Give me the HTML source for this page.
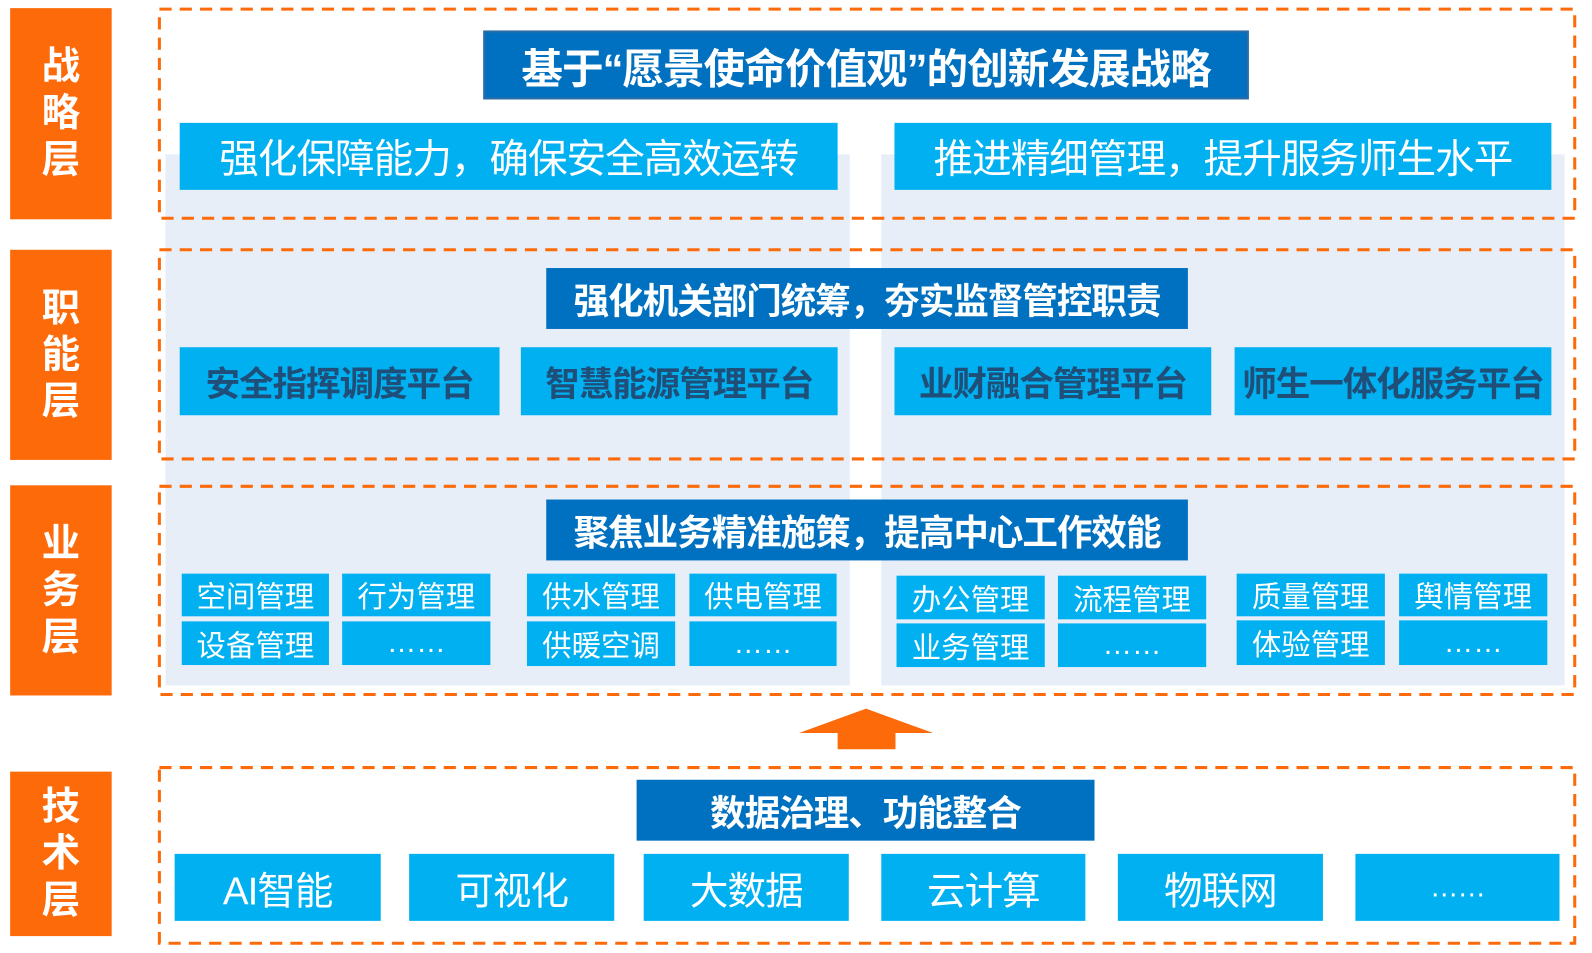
<!DOCTYPE html>
<html><head><meta charset="utf-8"><style>
html,body{margin:0;padding:0;background:#fff;width:1592px;height:953px;overflow:hidden}
#w{position:absolute;left:0;top:0;width:1568px;height:939px;transform:scale(1.0153);transform-origin:0 0;font-family:"Liberation Sans","Noto Sans CJK SC",sans-serif}
.a{position:absolute;box-sizing:border-box;display:flex;align-items:center;justify-content:center;white-space:nowrap}
.lab{background:#fd6a0a;color:#fff;font-weight:bold;font-size:38px;line-height:46px;flex-direction:column}
.pan{background:#e7eef8}
.t{background:#0070c0;color:#fff;font-weight:bold;font-size:35px;letter-spacing:-1px}
.b{background:#00b0f0;color:#fff;font-size:39px;letter-spacing:-1px}
.p{background:#00b0f0;color:#1f4e79;font-weight:bold;font-size:34px;letter-spacing:-1px}
.s{background:#00b0f0;color:#fff;font-size:29px}
</style></head><body><div id="w">
<div class="a pan" style="left:163px;top:152px;width:674px;height:523px"></div>
<div class="a pan" style="left:868px;top:152px;width:673px;height:523px"></div>
<svg style="position:absolute;left:0;top:0" width="1568" height="939">
<g fill="none" stroke="#fd6a0a" stroke-width="3" stroke-dasharray="12 8">
<rect x="157" y="9" width="1394" height="206"/>
<rect x="157" y="246" width="1394" height="206"/>
<rect x="157" y="479" width="1394" height="205"/>
<rect x="157" y="756" width="1394" height="173"/>
</g>
<polygon points="853,698 919,722 882,722 882,738 825,738 825,722 787,722" fill="#fd6a0a"/>
</svg>

<div class="a lab" style="left:10px;top:8px;width:100px;height:208px"><span>战</span><span>略</span><span>层</span></div>
<div class="a lab" style="left:10px;top:246px;width:100px;height:207px"><span>职</span><span>能</span><span>层</span></div>
<div class="a lab" style="left:10px;top:478px;width:100px;height:207px"><span>业</span><span>务</span><span>层</span></div>
<div class="a lab" style="left:10px;top:760px;width:100px;height:162px"><span>技</span><span>术</span><span>层</span></div>

<div class="a t" style="left:476px;top:30px;width:754px;height:68px;border:2px solid #2e6ca4;font-size:41px">基于“愿景使命价值观”的创新发展战略</div>
<div class="a b" style="left:177px;top:121px;width:648px;height:66px">强化保障能力，确保安全高效运转</div>
<div class="a b" style="left:881px;top:121px;width:647px;height:66px">推进精细管理，提升服务师生水平</div>

<div class="a t" style="left:538px;top:264px;width:632px;height:60px">强化机关部门统筹，夯实监督管控职责</div>
<div class="a p" style="left:177px;top:342px;width:315px;height:67px">安全指挥调度平台</div>
<div class="a p" style="left:513px;top:342px;width:312px;height:67px">智慧能源管理平台</div>
<div class="a p" style="left:881px;top:342px;width:312px;height:67px">业财融合管理平台</div>
<div class="a p" style="left:1216px;top:342px;width:312px;height:67px">师生一体化服务平台</div>

<div class="a t" style="left:538px;top:492px;width:632px;height:60px">聚焦业务精准施策，提高中心工作效能</div>
<div class="a s" style="left:179px;top:565px;width:145px;height:42px">空间管理</div>
<div class="a s" style="left:337px;top:565px;width:146px;height:42px">行为管理</div>
<div class="a s" style="left:179px;top:612px;width:145px;height:43px">设备管理</div>
<div class="a s" style="left:337px;top:612px;width:146px;height:43px">……</div>
<div class="a s" style="left:519px;top:565px;width:146px;height:42px">供水管理</div>
<div class="a s" style="left:679px;top:565px;width:145px;height:42px">供电管理</div>
<div class="a s" style="left:519px;top:612px;width:146px;height:44px">供暖空调</div>
<div class="a s" style="left:679px;top:612px;width:145px;height:44px">……</div>
<div class="a s" style="left:883px;top:567px;width:146px;height:43px">办公管理</div>
<div class="a s" style="left:1042px;top:567px;width:146px;height:43px">流程管理</div>
<div class="a s" style="left:883px;top:614px;width:146px;height:43px">业务管理</div>
<div class="a s" style="left:1042px;top:614px;width:146px;height:43px">……</div>
<div class="a s" style="left:1218px;top:565px;width:146px;height:42px">质量管理</div>
<div class="a s" style="left:1378px;top:565px;width:146px;height:42px">舆情管理</div>
<div class="a s" style="left:1218px;top:611px;width:146px;height:44px">体验管理</div>
<div class="a s" style="left:1378px;top:611px;width:146px;height:44px">……</div>

<div class="a t" style="left:627px;top:768px;width:451px;height:60px">数据治理、功能整合</div>
<div class="a b" style="left:172px;top:841px;width:203px;height:66px;font-size:38px">AI智能</div>
<div class="a b" style="left:403px;top:841px;width:202px;height:66px;font-size:38px">可视化</div>
<div class="a b" style="left:634px;top:841px;width:202px;height:66px;font-size:38px">大数据</div>
<div class="a b" style="left:868px;top:841px;width:201px;height:66px;font-size:38px">云计算</div>
<div class="a b" style="left:1101px;top:841px;width:202px;height:66px;font-size:38px">物联网</div>
<div class="a b" style="left:1335px;top:841px;width:201px;height:66px;font-size:28px">……</div>
</div></body></html>
